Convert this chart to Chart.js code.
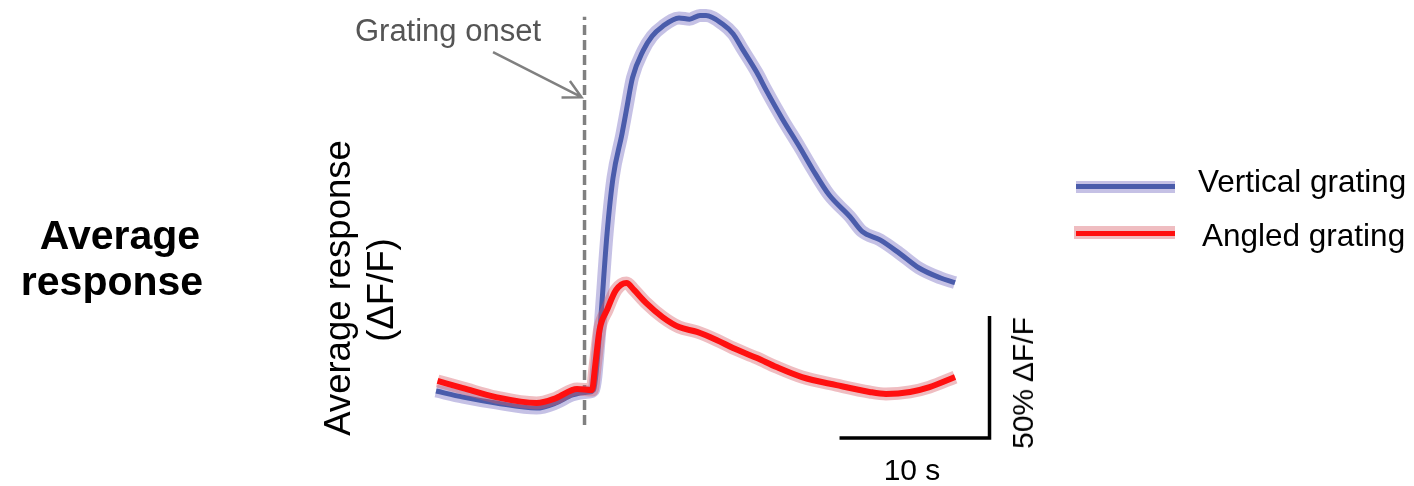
<!DOCTYPE html>
<html>
<head>
<meta charset="utf-8">
<script src="https://cdn.jsdelivr.net/npm/chart.js@4/dist/chart.umd.min.js"></script>
<style>
  html, body { margin: 0; padding: 0; background: #fff; }
  #wrap { position: relative; width: 1414px; height: 486px; overflow: hidden;
          font-family: "Liberation Sans", Arial, sans-serif; }
  #chart { position: absolute; left: 0; top: 0; }
  .txt { position: absolute; white-space: nowrap; line-height: 1; }
  .rot { transform: translate(-50%, -50%) rotate(-90deg); }
  .swatch { position: absolute; height: 5px; }
</style>
</head>
<body>
<div id="wrap">
  <canvas id="chart" width="1414" height="486"></canvas>

  <div class="txt" style="left:120px; top:215px; font-size:41px; font-weight:bold; transform:translateX(-50%);">Average</div>
  <div class="txt" style="left:112px; top:261px; font-size:41px; font-weight:bold; transform:translateX(-50%);">response</div>

  <div class="txt rot" style="left:338px; top:288px; font-size:36.5px;">Average response</div>
  <div class="txt rot" style="left:381px; top:290px; font-size:36.5px;">(ΔF/F)</div>

  <div class="txt" style="left:448px; top:15px; font-size:31px; color:#555; transform:translateX(-50%);">Grating onset</div>

  <div class="txt" style="left:912px; top:455px; font-size:30px; transform:translateX(-50%);">10 s</div>
  <div class="txt rot" style="left:1023px; top:383px; font-size:30px;">50% ΔF/F</div>

  <div class="swatch" style="left:1076px; top:181px; width:99px; height:12px; background:rgba(110,100,190,0.4);"></div>
  <div class="swatch" style="left:1076px; top:184px; width:99px; background:#4a5cab;"></div>
  <div class="txt" style="left:1198px; top:166px; font-size:31.5px;">Vertical grating</div>

  <div class="swatch" style="left:1074px; top:226px; width:101px; height:13px; background:rgba(215,90,100,0.4);"></div>
  <div class="swatch" style="left:1076px; top:231px; width:99px; background:#ff1010;"></div>
  <div class="txt" style="left:1202px; top:220px; font-size:31.5px;">Angled grating</div>
</div>

<script>
// time (s) relative to grating onset, response in % dF/F
const blueTime = [-9.9, -8.1, -5.9, -3.2, -1.9, -0.8, 0.3, 0.6, 1.0, 1.5, 1.9, 2.5, 2.8, 3.2, 3.9, 4.5, 5.2, 6.3, 7.0, 7.7, 8.1, 9.2, 9.9, 10.5, 11.5, 12.1, 13.2, 14.3, 15.2, 16.3, 17.7, 18.5, 19.7, 21.0, 22.3, 23.7, 24.7];
const blueMean = [-0.4, -2.9, -5.3, -7.4, -5.3, -2.0, -0.8, 0, 23, 64, 87, 105, 115, 128, 139, 145, 149, 152.5, 152, 153.5, 153.5, 150, 146, 140, 130, 123, 111, 100, 90.5, 80, 71, 65, 61.5, 56, 50, 46, 44];

const redTime = [-9.8, -8.1, -5.9, -3.2, -1.9, -0.5, 0.5, 0.7, 1.0, 1.5, 2.1, 2.8, 3.3, 4.1, 5.2, 6.3, 7.5, 8.8, 9.9, 11.5, 12.8, 14.5, 16.8, 19.0, 20.1, 21.7, 23.0, 24.7];
const redMean = [3.7, 0.8, -2.9, -5.3, -3.3, 0.4, 0, 9.4, 24.6, 32.8, 41, 43.9, 41, 35.7, 29.9, 25.8, 23.8, 20.5, 17.2, 13.1, 9.4, 5.3, 2.0, -0.8, -1.6, -0.8, 1.2, 5.3];

const onsetTime = 0;
const onsetSpan = [-14.3, 153];      // extent of the dashed onset line
const scaleBarTime = 10;              // s
const scaleBarResp = 50;              // % dF/F
const scaleBarOrigin = [17, -19.7];   // corner start (time, response)

const pts = (xs, ys) => xs.map((x, i) => ({ x: x, y: ys[i] }));

const lineStyle = { pointRadius: 0, cubicInterpolationMode: 'monotone', fill: false };

const sx = scaleBarOrigin[0], sy = scaleBarOrigin[1];

// gray arrow from the "Grating onset" label to the dashed line
const arrowPlugin = {
    id: 'onsetArrow',
    afterDatasetsDraw(chart) {
        const ctx = chart.ctx;
        const xs = chart.scales.x, ys = chart.scales.y;
        const x0 = xs.getPixelForValue(-6.1), y0 = ys.getPixelForValue(138.5);
        const x1 = xs.getPixelForValue(-0.2), y1 = ys.getPixelForValue(120);
        const ang = Math.atan2(y1 - y0, x1 - x0);
        const head = 20, spread = 0.48;
        ctx.save();
        ctx.strokeStyle = '#808080';
        ctx.lineWidth = 2.5;
        ctx.beginPath();
        ctx.moveTo(x0, y0);
        ctx.lineTo(x1, y1);
        ctx.moveTo(x1 - head * Math.cos(ang - spread), y1 - head * Math.sin(ang - spread));
        ctx.lineTo(x1, y1);
        ctx.lineTo(x1 - head * Math.cos(ang + spread), y1 - head * Math.sin(ang + spread));
        ctx.stroke();
        ctx.restore();
    }
};

new Chart(document.getElementById('chart').getContext('2d'), {
    type: 'line',
    data: {
        datasets: [
            Object.assign({ data: pts(redTime, redMean), borderColor: '#ff1010', borderWidth: 6, order: 1 }, lineStyle),
            Object.assign({ data: pts(redTime, redMean), borderColor: 'rgba(215,90,100,0.4)', borderWidth: 13, order: 2 }, lineStyle),
            Object.assign({ data: pts(blueTime, blueMean), borderColor: '#4a5cab', borderWidth: 5, order: 3 }, lineStyle),
            Object.assign({ data: pts(blueTime, blueMean), borderColor: 'rgba(110,100,190,0.4)', borderWidth: 13, order: 4 }, lineStyle),
            {
                data: [{ x: onsetTime, y: onsetSpan[0] }, { x: onsetTime, y: onsetSpan[1] }],
                borderColor: '#808080', borderWidth: 3.5, borderDash: [10, 5],
                pointRadius: 0, fill: false, order: 5
            },
            {
                data: [{ x: sx, y: sy }, { x: sx + scaleBarTime, y: sy }, { x: sx + scaleBarTime, y: sy + scaleBarResp }],
                borderColor: '#000', borderWidth: 3.5, borderJoinStyle: 'miter',
                pointRadius: 0, fill: false, order: 0
            }
        ]
    },
    options: {
        responsive: false,
        animation: false,
        layout: { padding: 0 },
        plugins: {
            legend: { display: false },
            tooltip: { enabled: false }
        },
        scales: {
            x: { type: 'linear', display: false, min: -38.97, max: 55.3 },
            y: { type: 'linear', display: false, min: -39.34, max: 159.84 }
        }
    },
    plugins: [arrowPlugin]
});
</script>
</body>
</html>
